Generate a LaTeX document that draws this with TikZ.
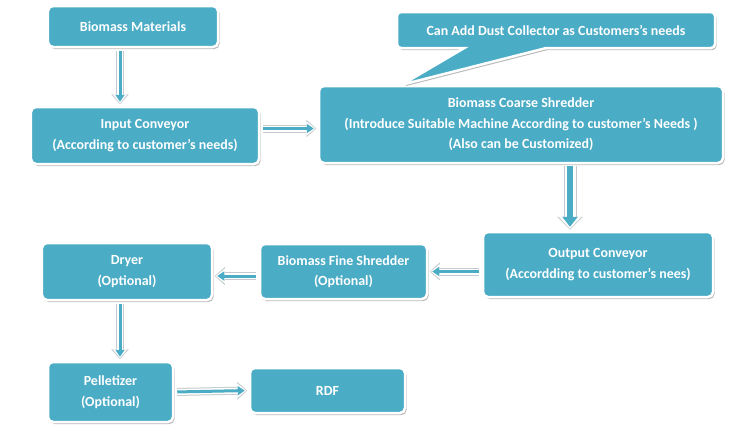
\documentclass[tikz,border=0pt]{standalone}
\usepackage{fontspec}
\setmainfont{Carlito}
\usepackage{xcolor}
\usepackage{tikz}
\usetikzlibrary{shapes.callouts, shadows, arrows.meta, positioning}
\definecolor{bioteal}{RGB}{75,172,198}
\definecolor{biorim}{RGB}{196,202,206}

\begin{document}
\begin{tikzpicture}[x=1bp, y=-1bp,
    stepbox/.style={rectangle, rounded corners=5bp, fill=bioteal, draw=white, line width=2.5bp,
        text=white, font=\bfseries\fontsize{14}{20.5}\selectfont, align=center, inner sep=0pt,
        drop shadow={shadow xshift=1.5bp, shadow yshift=-2bp, fill=black, opacity=0.28}},
    flow/.style={draw=bioteal, line width=3bp, -{Triangle[length=7bp,width=9bp]},
        shorten <=3bp, shorten >=4bp,
        preaction={draw=biorim, line width=8bp, -{Triangle[length=10bp,width=17bp]}, shorten >=1.5bp},
        preaction={draw=white, line width=6bp, -{Triangle[length=9bp,width=14bp]}, shorten >=2.5bp}},
    bigflow/.style={draw=bioteal, line width=6bp, -{Triangle[length=10bp,width=15bp]},
        shorten <=2bp, shorten >=4bp,
        preaction={draw=biorim, line width=13bp, -{Triangle[length=13bp,width=25bp]}, shorten >=1bp},
        preaction={draw=white, line width=11bp, -{Triangle[length=12bp,width=22bp]}, shorten >=2bp}}]

\useasboundingbox[fill=white] (0,0) rectangle (740,430);

% Draw boxes
\node[stepbox, minimum width=170bp, minimum height=41bp] (materials) at (133,26.5) {Biomass Materials};
\node[stepbox, minimum width=228bp, minimum height=57bp] (inconv) at (145,135.5)
    {Input Conveyor\\(According to customer’s needs)};
\node[stepbox, minimum width=404bp, minimum height=77bp] (coarse) at (521,124.5)
    {Biomass Coarse Shredder\\(Introduce Suitable Machine According to customer’s Needs )\\(Also can be Customized)};
\node[stepbox, minimum width=230bp, minimum height=65bp] (outconv) at (598,264.5)
    {Output Conveyor\\(Accordding to customer’s nees)};
\node[stepbox, minimum width=167bp, minimum height=55bp] (fine) at (343.5,271.5)
    {Biomass Fine Shredder\\(Optional)};
\node[stepbox, minimum width=170bp, minimum height=57bp] (dryer) at (127,271.5)
    {Dryer\\(Optional)};
\node[stepbox, minimum width=125bp, minimum height=60bp] (pellet) at (110.5,392)
    {Pelletizer\\(Optional)};
\node[stepbox, minimum width=155bp, minimum height=45bp] (rdf) at (327.5,390.5) {RDF};

% Callout
\node[stepbox, rectangle callout, rounded corners=4bp, minimum width=318bp, minimum height=36bp,
    callout absolute pointer={([xshift=84bp]coarse.north west)}, callout pointer width=82bp]
    (dust) at (556,30) {Can Add Dust Collector as Customers’s needs};

% Draw arrows
\draw[flow] ([xshift=-13bp]materials.south) -- ([xshift=-13bp]materials.south |- inconv.north);
\draw[flow] ([yshift=7bp]inconv.east) -- ([yshift=7bp]inconv.east -| coarse.west);
\draw[bigflow] ([xshift=49bp]coarse.south) -- ([xshift=49bp]coarse.south |- outconv.north);
\draw[flow] ([yshift=-7bp]outconv.west) -- ([yshift=-7bp]outconv.west -| fine.east);
\draw[flow] ([yshift=-4.5bp]fine.west) -- ([yshift=-4.5bp]fine.west -| dryer.east);
\draw[flow] ([xshift=-7bp]dryer.south) -- ([xshift=-7bp]dryer.south |- pellet.north);
\draw[flow] (pellet.east) -- (rdf.west);
\end{tikzpicture}
\end{document}
